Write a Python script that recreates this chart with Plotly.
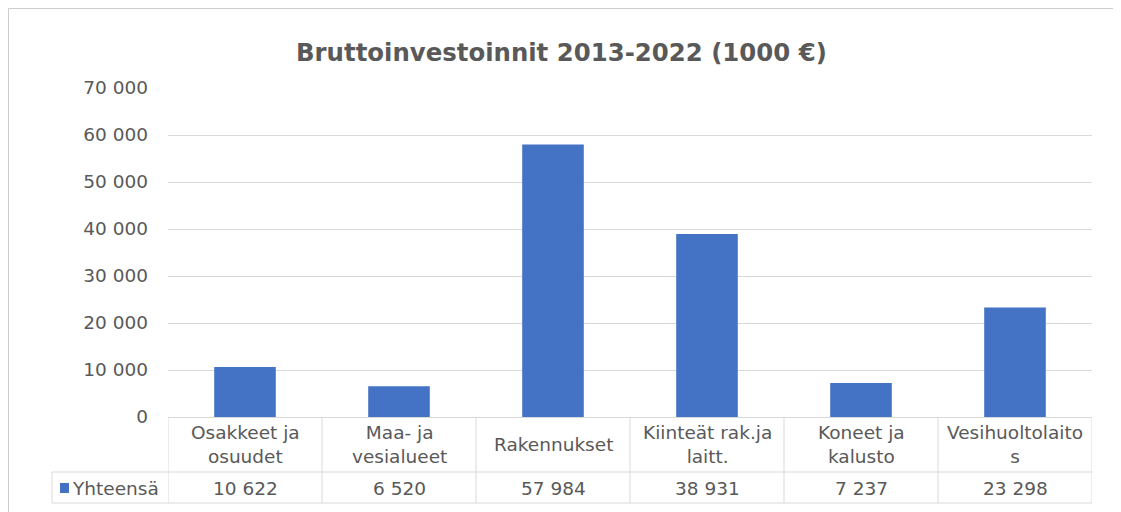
import plotly.graph_objects as go

categories = ["Osakkeet ja<br>osuudet", "Maa- ja<br>vesialueet", "Rakennukset",
              "Kiinteät rak.ja<br>laitt.", "Koneet ja<br>kalusto", "Vesihuoltolaito<br>s"]
values = [10622, 6520, 57984, 38931, 7237, 23298]
value_labels = ["10 622", "6 520", "57 984", "38 931", "7 237", "23 298"]
series_name = "Yhteensä"
tick_vals = [0, 10000, 20000, 30000, 40000, 50000, 60000, 70000]
tick_text = ["0", "10 000", "20 000", "30 000", "40 000", "50 000", "60 000", "70 000"]
title = "Bruttoinvestoinnit 2013-2022 (1000 €)"

# page body has an 8px margin; work in window pixels and convert
OFF = 8
W, H = 1121 - OFF, 512 - OFF
PL, PR, PT, PB = 168, 1092, 88, 417   # plot area in window pixels
L, R, T, B = PL - OFF, (1121 - PR), PT - OFF, (512 - PB)
PW, PH = PR - PL, PB - PT

def px(x):
    return (x - PL) / PW

def py(y):
    return (PB - y) / PH

BLUE = "#4472C4"
GRID = "#d9d9d9"
TXT = "#595959"
FONT = "DejaVu Sans"
FS = 18.5

x_idx = list(range(len(categories)))

fig = go.Figure()
fig.add_trace(go.Bar(x=x_idx, y=values, marker_color=BLUE, name=series_name,
                     marker_line_width=0, showlegend=False))

shapes = []
# outer chart border (top and left) - as close to the figure edge as possible
shapes.append(dict(type="line", xref="paper", yref="paper", x0=px(8.5), x1=px(1130),
                   y0=py(8.5), y1=py(8.5), line=dict(color="#cccccc", width=1)))
shapes.append(dict(type="line", xref="paper", yref="paper", x0=px(8.5), x1=px(8.5),
                   y0=py(8.5), y1=py(520), line=dict(color="#cccccc", width=1)))
# data table lines
for k in range(len(categories) + 1):
    shapes.append(dict(type="line", xref="x", yref="paper", x0=k - 0.5, x1=k - 0.5,
                       y0=0, y1=py(503), line=dict(color=GRID, width=1)))
for yy in (472, 503):
    shapes.append(dict(type="line", xref="paper", yref="paper", x0=px(52), x1=1,
                       y0=py(yy), y1=py(yy), line=dict(color=GRID, width=1)))
shapes.append(dict(type="line", xref="paper", yref="paper", x0=px(52), x1=px(52),
                   y0=py(472), y1=py(503), line=dict(color=GRID, width=1)))
# legend key
shapes.append(dict(type="rect", xref="paper", yref="paper", x0=px(60), x1=px(69),
                   y0=py(493), y1=py(483), fillcolor=BLUE, line=dict(width=0)))

annotations = []
for i, c in enumerate(categories):
    annotations.append(dict(x=i, y=py(445), xref="x", yref="paper", text=c,
                            showarrow=False, xanchor="center", yanchor="middle",
                            font=dict(family=FONT, size=FS, color=TXT)))
    annotations.append(dict(x=i, y=py(488), xref="x", yref="paper", text=value_labels[i],
                            showarrow=False, xanchor="center", yanchor="middle",
                            font=dict(family=FONT, size=FS, color=TXT)))
annotations.append(dict(x=px(70), y=py(488), xref="paper", yref="paper", text=series_name,
                        showarrow=False, xanchor="left", yanchor="middle",
                        font=dict(family=FONT, size=FS, color=TXT)))
annotations.append(dict(x=px(561), y=py(52), xref="paper", yref="paper",
                        text="<b>" + title + "</b>", showarrow=False,
                        xanchor="center", yanchor="middle",
                        font=dict(family=FONT, size=24.4, color=TXT)))

fig.update_layout(
    width=W, height=H,
    margin=dict(l=L, r=R, t=T, b=B),
    paper_bgcolor="white", plot_bgcolor="white",
    bargap=0.6,
    xaxis=dict(range=[-0.5, len(categories) - 0.5], showticklabels=False, showgrid=False,
               showline=True, linecolor=GRID, linewidth=1, zeroline=False, ticks=""),
    yaxis=dict(range=[0, 70000], tickvals=tick_vals, ticktext=tick_text, showgrid=True,
               gridcolor=GRID, gridwidth=1, zeroline=False, showline=False,
               ticklabelstandoff=19,
               tickfont=dict(family=FONT, size=FS, color=TXT)),
    shapes=shapes, annotations=annotations,
)

fig.write_html("out.html")
